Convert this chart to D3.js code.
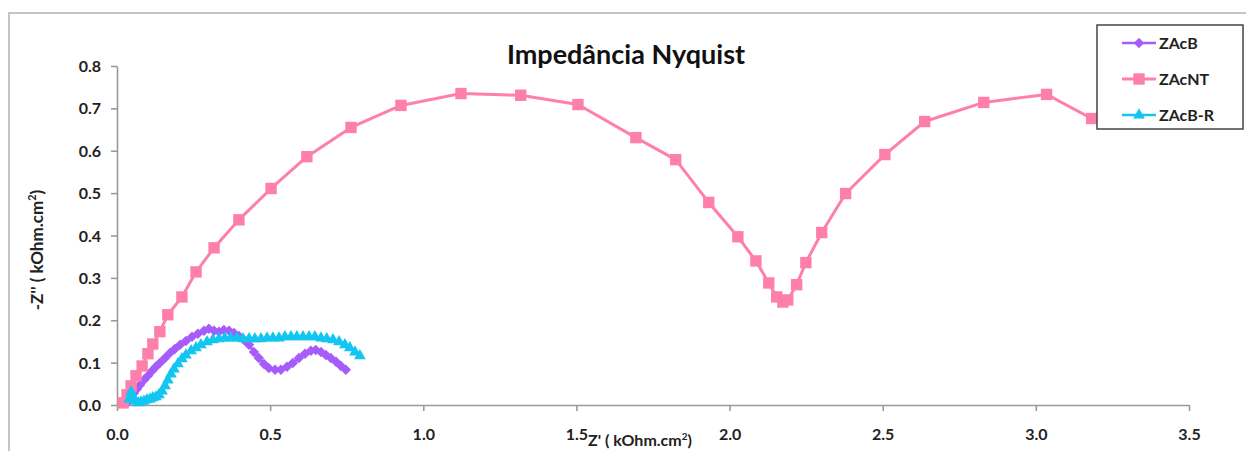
<!DOCTYPE html>
<html>
<head>
<meta charset="utf-8">
<script src="https://cdn.jsdelivr.net/npm/d3@7"></script>
<style>
  html, body { margin: 0; padding: 0; background: #fff; }
  svg { display: block; font-family: Lato, "Open Sans", sans-serif; }
</style>
</head>
<body>
<svg id="chart" width="1246" height="451"></svg>
<script>
// Nyquist impedance data: [Z' , -Z''] in kOhm.cm²
const seriesNames = ["ZAcB", "ZAcNT", "ZAcB-R"];

const zAcB = [
  [0.033,0.005],[0.039,0.012],[0.046,0.019],[0.055,0.028],[0.065,0.038],[0.075,0.047],
  [0.088,0.059],[0.101,0.069],[0.114,0.080],[0.127,0.090],[0.140,0.099],[0.157,0.111],
  [0.173,0.123],[0.189,0.132],[0.206,0.142],[0.225,0.151],[0.245,0.161],[0.264,0.168],
  [0.284,0.175],[0.300,0.180],[0.317,0.175],[0.333,0.173],[0.349,0.177],[0.366,0.175],
  [0.382,0.170],[0.398,0.163],[0.414,0.154],[0.431,0.142],[0.447,0.125],[0.463,0.111],
  [0.480,0.097],[0.496,0.087],[0.516,0.083],[0.535,0.083],[0.555,0.090],[0.574,0.099],
  [0.594,0.111],[0.614,0.121],[0.633,0.128],[0.649,0.130],[0.666,0.125],[0.682,0.118],
  [0.698,0.111],[0.715,0.102],[0.731,0.092],[0.747,0.083]
];

const zAcNT = [
  [0.020,0.005],[0.033,0.024],[0.046,0.045],[0.062,0.069],[0.082,0.092],[0.101,0.121],
  [0.117,0.144],[0.140,0.173],[0.166,0.213],[0.212,0.255],[0.258,0.314],[0.317,0.371],
  [0.398,0.437],[0.503,0.511],[0.620,0.586],[0.764,0.655],[0.927,0.707],[1.123,0.735],
  [1.318,0.731],[1.505,0.709],[1.694,0.631],[1.824,0.579],[1.932,0.478],[2.027,0.397],
  [2.086,0.340],[2.128,0.288],[2.154,0.255],[2.174,0.243],[2.190,0.248],[2.219,0.284],
  [2.249,0.336],[2.301,0.407],[2.379,0.499],[2.507,0.591],[2.637,0.669],[2.830,0.714],
  [3.035,0.733],[3.182,0.676]
];

const zAcBR = [
  [0.039,0.014],[0.046,0.031],[0.052,0.019],[0.059,0.009],[0.069,0.005],[0.078,0.007],
  [0.088,0.009],[0.098,0.012],[0.108,0.014],[0.117,0.017],[0.127,0.019],[0.137,0.024],
  [0.147,0.033],[0.157,0.045],[0.166,0.059],[0.176,0.073],[0.186,0.085],[0.199,0.097],
  [0.212,0.109],[0.225,0.118],[0.242,0.128],[0.258,0.135],[0.274,0.142],[0.294,0.149],
  [0.313,0.154],[0.333,0.156],[0.352,0.158],[0.372,0.158],[0.392,0.158],[0.411,0.156],
  [0.431,0.156],[0.450,0.156],[0.470,0.156],[0.490,0.158],[0.509,0.158],[0.529,0.158],
  [0.548,0.161],[0.568,0.161],[0.587,0.161],[0.607,0.161],[0.627,0.161],[0.646,0.161],
  [0.666,0.158],[0.685,0.156],[0.705,0.154],[0.725,0.149],[0.744,0.142],[0.760,0.135],
  [0.777,0.125],[0.793,0.116]
];

const xTicks = [0, 0.5, 1.0, 1.5, 2.0, 2.5, 3.0, 3.5];
const yTicks = [0, 0.1, 0.2, 0.3, 0.4, 0.5, 0.6, 0.7, 0.8];

const svg = d3.select("#chart");

// outer chart frame
svg.append("rect")
  .attr("x", 9).attr("y", 13).attr("width", 1300).attr("height", 500)
  .attr("fill", "#fff").attr("stroke", "#c4c4c4").attr("stroke-width", 2);

const plot = { left: 117, right: 1189, top: 66, bottom: 405 };
const x = d3.scaleLinear().domain([0, 3.5]).range([plot.left, plot.right]);
const y = d3.scaleLinear().domain([0, 0.8]).range([plot.bottom, plot.top]);

// axes
const axisColor = "#9a9a9a";
const gx = svg.append("g").attr("transform", `translate(0,${plot.bottom})`)
  .call(d3.axisBottom(x).tickValues(xTicks).tickFormat(d3.format(".1f")).tickSize(6).tickSizeOuter(0));
const gy = svg.append("g").attr("transform", `translate(${plot.left},0)`)
  .call(d3.axisLeft(y).tickValues(yTicks).tickFormat(d3.format(".1f")).tickSize(6).tickSizeOuter(0));

[gx, gy].forEach(g => {
  g.select(".domain").attr("stroke", axisColor).attr("stroke-width", 1.6);
  g.selectAll(".tick line").attr("stroke", axisColor).attr("stroke-width", 1.6);
  g.selectAll(".tick text")
    .attr("fill", "#222").attr("font-size", 16).attr("font-weight", 700)
    .attr("font-family", "Lato, sans-serif");
});
gx.selectAll(".tick text").attr("y", 29).attr("dy", "0.35em");
gy.selectAll(".tick text").attr("x", -16).attr("dy", "0.35em");

// title and axis titles
svg.append("text")
  .attr("x", 626).attr("y", 64).attr("text-anchor", "middle")
  .attr("font-size", 27).attr("font-weight", 700).attr("fill", "#111")
  .text("Impedância Nyquist");

const xTitle = svg.append("text")
  .attr("x", 640).attr("y", 446).attr("text-anchor", "middle")
  .attr("font-size", 16).attr("font-weight", 700).attr("fill", "#222");
xTitle.append("tspan").text("Z' ( kOhm.cm");
xTitle.append("tspan").attr("font-size", 10).attr("dy", -6).text("2");
xTitle.append("tspan").attr("dy", 6).text(")");

const yTitle = svg.append("text")
  .attr("transform", "translate(43,250) rotate(-90)").attr("text-anchor", "middle")
  .attr("font-size", 17).attr("font-weight", 700).attr("fill", "#222");
yTitle.append("tspan").text("-Z'' ( kOhm.cm");
yTitle.append("tspan").attr("font-size", 11).attr("dy", -7).text("2");
yTitle.append("tspan").attr("dy", 7).text(")");

// series
const series = [
  { name: seriesNames[0], data: zAcB,  color: "#a55cfb", symbol: d3.symbolDiamond2, size: 70, width: 2.6 },
  { name: seriesNames[1], data: zAcNT, color: "#ff7fab", symbol: d3.symbolSquare,   size: 130, width: 3 },
  { name: seriesNames[2], data: zAcBR, color: "#12c6f0", symbol: d3.symbolTriangle, size: 60, width: 2.6 }
];

const line = d3.line().x(d => x(d[0])).y(d => y(d[1]));

series.forEach(s => {
  const g = svg.append("g");
  g.append("path").datum(s.data)
    .attr("d", line).attr("fill", "none")
    .attr("stroke", s.color).attr("stroke-width", s.width).attr("stroke-linejoin", "round");
  g.selectAll("path.m").data(s.data).join("path").attr("class", "m")
    .attr("transform", d => `translate(${x(d[0])},${y(d[1])})`)
    .attr("d", d3.symbol(s.symbol, s.size)())
    .attr("fill", s.color);
});

// legend
const legend = svg.append("g");
legend.append("rect")
  .attr("x", 1097).attr("y", 25).attr("width", 146).attr("height", 104)
  .attr("fill", "#fff").attr("stroke", "#444").attr("stroke-width", 1.5);
const legendY = d3.scalePoint().domain(seriesNames).range([43, 115]);
series.forEach(s => {
  const ly = legendY(s.name);
  legend.append("line")
    .attr("x1", 1122).attr("x2", 1156).attr("y1", ly).attr("y2", ly)
    .attr("stroke", s.color).attr("stroke-width", s.width);
  legend.append("path")
    .attr("transform", `translate(1139,${ly})`)
    .attr("d", d3.symbol(s.symbol, s.size)())
    .attr("fill", s.color);
  legend.append("text")
    .attr("x", 1159).attr("y", ly).attr("dy", "0.35em")
    .attr("font-size", 16).attr("font-weight", 700).attr("fill", "#222")
    .text(s.name);
});
</script>
</body>
</html>
